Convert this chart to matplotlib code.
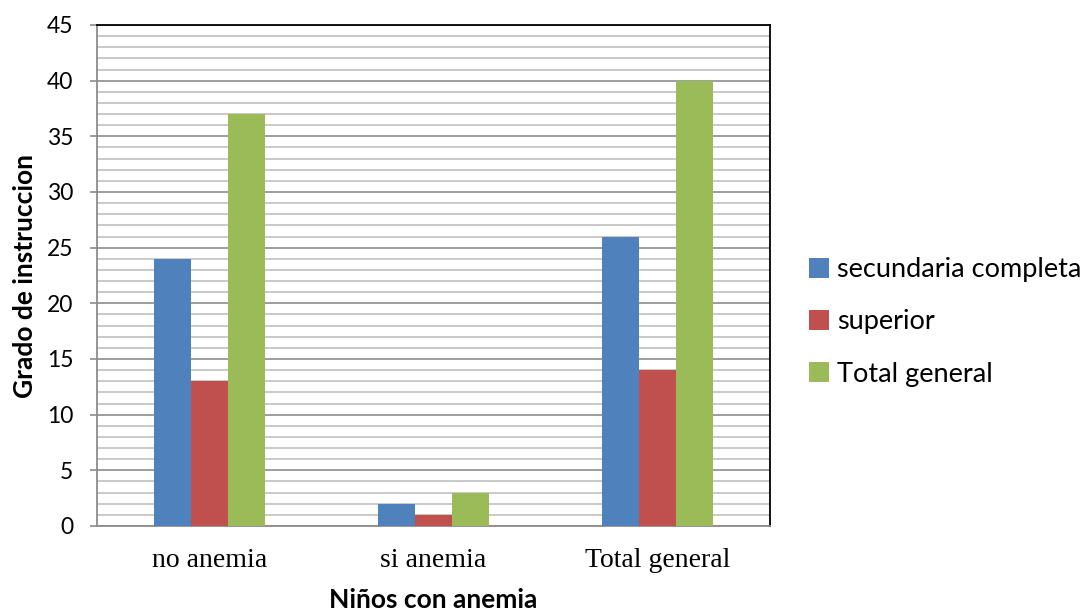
import numpy as np
import matplotlib
matplotlib.use('Agg')
import matplotlib.pyplot as plt
from matplotlib.ticker import MultipleLocator

categories = ['no anemia', 'si anemia', 'Total general']
series_names = ['secundaria completa', 'superior', 'Total general']
secundaria = [24, 2, 26]
superior = [13, 1, 14]
total = [37, 3, 40]
colors = ['#4F81BD', '#C0504D', '#9BBB59']

sans = ['Lato', 'DejaVu Sans']

fig = plt.figure(figsize=(10.86, 6.13), dpi=100)
ax = fig.add_axes([97 / 1086, 1 - 526 / 613, 673 / 1086, 501 / 613])

x = np.arange(len(categories))
w = 0.165
for i, (vals, name) in enumerate(zip([secundaria, superior, total], series_names)):
    ax.bar(x + (i - 1) * w, vals, w, color=colors[i], label=name, zorder=3)

ax.set_xlim(-0.5, 2.5)
ax.set_ylim(0, 45)
ax.yaxis.set_major_locator(MultipleLocator(5))
ax.yaxis.set_minor_locator(MultipleLocator(1))
ax.grid(axis='y', which='major', color='#8c8c8c', linewidth=1.2, zorder=0)
ax.grid(axis='y', which='minor', color='#c0c0c0', linewidth=1.2, zorder=0)
ax.set_axisbelow(True)

ax.set_xticks(x)
ax.set_xticklabels(categories, family=['Liberation Serif'], fontsize=20)
ax.tick_params(axis='x', length=0, pad=16)
ax.tick_params(axis='y', which='major', length=5, width=1.2, color='#8c8c8c',
               labelsize=16.5, pad=12)
ax.tick_params(axis='y', which='minor', length=0)
for lab in ax.get_yticklabels():
    lab.set_family(sans)

ax.spines['left'].set_color('#8c8c8c')
ax.spines['bottom'].set_color('#8c8c8c')
ax.spines['top'].set_color('black')
ax.spines['right'].set_color('black')
for s in ax.spines.values():
    s.set_linewidth(1.3)

# axis titles placed by pixel offsets from the plot area
ax.set_ylabel('Grado de instruccion', family=sans, fontsize=19, fontweight='bold')
ax.yaxis.set_label_coords(-60 / 673, 0.5)
ax.set_xlabel('Niños con anemia', family=sans, fontsize=19, fontweight='bold')
ax.xaxis.set_label_coords(0.5, -(588 - 526) / 501)

leg = ax.legend(loc='center left', bbox_to_anchor=(715 / 673 - 0.005, 1 - (322 - 25) / 501),
                frameon=False, borderaxespad=0, borderpad=0,
                prop={'family': sans, 'size': 19.5}, handlelength=0.75, handleheight=0.75,
                handletextpad=0.3, labelspacing=1.0)

fig.savefig('out.png', dpi=100)
